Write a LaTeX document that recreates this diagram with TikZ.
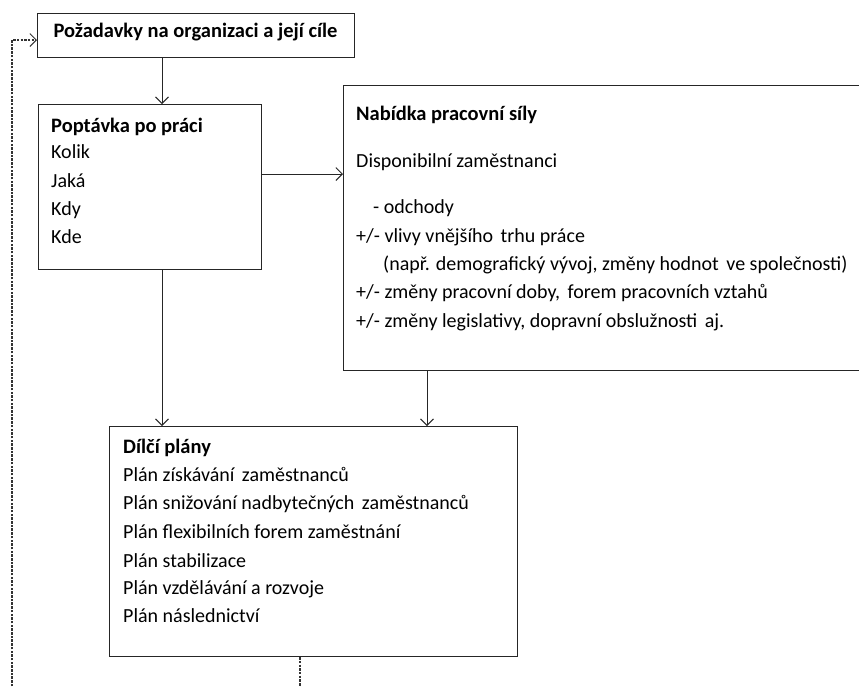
\documentclass[tikz,border=0pt]{standalone}
\usepackage{fontspec}
\setmainfont{Carlito}
\usetikzlibrary{arrows.meta}
\newcommand{\xs}{\hspace{3pt}}
\begin{document}
\begin{tikzpicture}[x=1pt,y=-1pt,
  box/.style={draw=black!85,line width=1.1pt,rectangle,inner sep=0pt,anchor=north west},
  txt/.style={anchor=base west,inner sep=0pt,font=\fontsize{20}{24}\selectfont},
  btxt/.style={anchor=base west,inner sep=0pt,font=\fontsize{20.5}{24}\selectfont\bfseries},
  tip/.style={-{Straight Barb[length=6.5pt,width=13pt,line width=0.9pt]}},
  arr/.style={draw=black!85,line width=0.9pt,tip},
  dsh/.style={draw=black!80,line width=1.1pt,dash pattern=on 2.5pt off 1.2pt}]
\useasboundingbox (0,0) rectangle (859,686);
\clip (0,0) rectangle (859,686);
% boxes
\node[box,minimum width=317pt,minimum height=44pt] (req) at (37,13) {};
\node[box,minimum width=223pt,minimum height=165pt] (dem) at (38,104) {};
\node[box,minimum width=540pt,minimum height=285pt] (sup) at (343,85) {};
\node[box,minimum width=408pt,minimum height=230pt] (plan) at (109,426) {};
% texts
\node[btxt,anchor=base] (reqt) at (195.5,37) {Požadavky na organizaci a její cíle};
\node[btxt] (d0) at (51,132) {Poptávka po práci};
\node[txt] (d1) at (51,158) {Kolik};
\node[txt] (d2) at (51,187) {Jaká};
\node[txt] (d3) at (51,215) {Kdy};
\node[txt] (d4) at (51,243) {Kde};
\node[btxt] (s0) at (356,120) {Nabídka pracovní síly};
\node[txt] (s1) at (356,167) {Disponibilní zaměstnanci};
\node[txt] (s2) at (373,213) {- odchody};
\node[txt] (s3) at (356,242) {+/- vlivy vnějšího\xs{} trhu práce};
\node[txt] (s4) at (383,270) {(např. demografický vývoj, změny hodnot\xs{} ve společnosti)};
\node[txt] (s5) at (356,298) {+/- změny pracovní doby,\xs{} forem pracovních vztahů};
\node[txt] (s6) at (356,327) {+/- změny legislativy, dopravní obslužnosti\xs{} aj.};
\node[btxt] (p0) at (123,453) {Dílčí plány};
\node[txt] (p1) at (123,481) {Plán získávání\xs{} zaměstnanců};
\node[txt] (p2) at (123,509) {Plán snižování nadbytečných\xs{} zaměstnanců};
\node[txt] (p3) at (123,538) {Plán flexibilních forem zaměstnání};
\node[txt] (p4) at (123,567) {Plán stabilizace};
\node[txt] (p5) at (123,594) {Plán vzdělávání a rozvoje};
\node[txt] (p6) at (123,622) {Plán následnictví};
% connectors
\draw[arr] (req.south -| 162,0) -- (dem.north -| 162,0);
\draw[arr] (dem.east |- 0,174) -- (sup.west |- 0,174);
\draw[arr] (dem.south -| 162,0) -- (plan.north -| 162,0);
\draw[arr] (sup.south -| 427,0) -- (plan.north -| 427,0);
\coordinate (loopend) at (300,690);
\coordinate (loopstart) at (12,690);
\draw[dsh] (plan.south -| 300,0) -- (loopend);
\draw[dsh,tip] (loopstart) |- (req.west |- 0,40);
\end{tikzpicture}
\end{document}
